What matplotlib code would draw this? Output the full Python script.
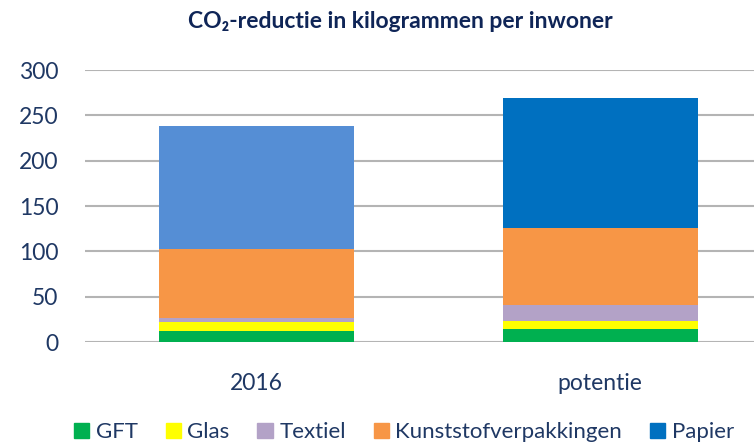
import matplotlib.pyplot as plt
import numpy as np

# Data (kg CO2 per inwoner)
categories = ['2016', 'potentie']
series_names = ['GFT', 'Glas', 'Textiel', 'Kunststofverpakkingen', 'Papier']
gft = [12.5, 14.0]
glas = [9.5, 9.5]
textiel = [4.0, 17.5]
kunststof = [76.5, 85.0]
papier = [136.0, 143.5]

colors = ['#00B050', '#FFFF00', '#B3A2C7', '#F79646', '#0070C0']
papier_colors = ['#558ED5', '#0070C0']
navy = '#1F3864'

plt.rcParams['font.family'] = ['Lato', 'DejaVu Sans']

fig = plt.figure(figsize=(7.54, 4.44), dpi=100)
ax = fig.add_axes([85 / 754, 102 / 444, 687 / 754, 272 / 444])

x = np.arange(len(categories))
width = 0.568
bottom = np.zeros(len(categories))
handles = []
for name, vals, col in zip(series_names, [gft, glas, textiel, kunststof, papier], colors):
    if name == 'Papier':
        ax.bar(x, vals, width, bottom=bottom, color=papier_colors, label=name, zorder=3)
    else:
        ax.bar(x, vals, width, bottom=bottom, color=col, label=name, zorder=3)
    bottom += np.array(vals)
    handles.append(plt.Rectangle((0, 0), 1, 1, color=col))

ax.set_xlim(-0.5, 1.5)
ax.set_ylim(0, 300)
ax.set_yticks(range(0, 301, 50))
ax.set_xticks(x)
ax.set_xticklabels(categories)
ax.yaxis.grid(True, color='#B4B4B4', linewidth=1.5, zorder=0)
ax.set_axisbelow(True)
for s in ax.spines.values():
    s.set_visible(False)
ax.tick_params(axis='y', length=0, pad=19, labelsize=16.5, labelcolor=navy)
ax.tick_params(axis='x', length=0, pad=22, labelsize=16.5, labelcolor=navy)

fig.text(400 / 754, 1 - 22 / 444, 'CO₂-reductie in kilogrammen per inwoner',
         ha='center', va='center', fontsize=16.5, fontweight='bold', color='#0F2557')

leg = fig.legend(handles, series_names, loc='center', bbox_to_anchor=(404 / 754, 1 - 432 / 444),
                 ncol=5, frameon=False, fontsize=16, handlelength=0.68, handleheight=0.68,
                 handletextpad=0.3, columnspacing=1.25, labelcolor=navy, borderpad=0)

fig.savefig('out.png', dpi=100)
